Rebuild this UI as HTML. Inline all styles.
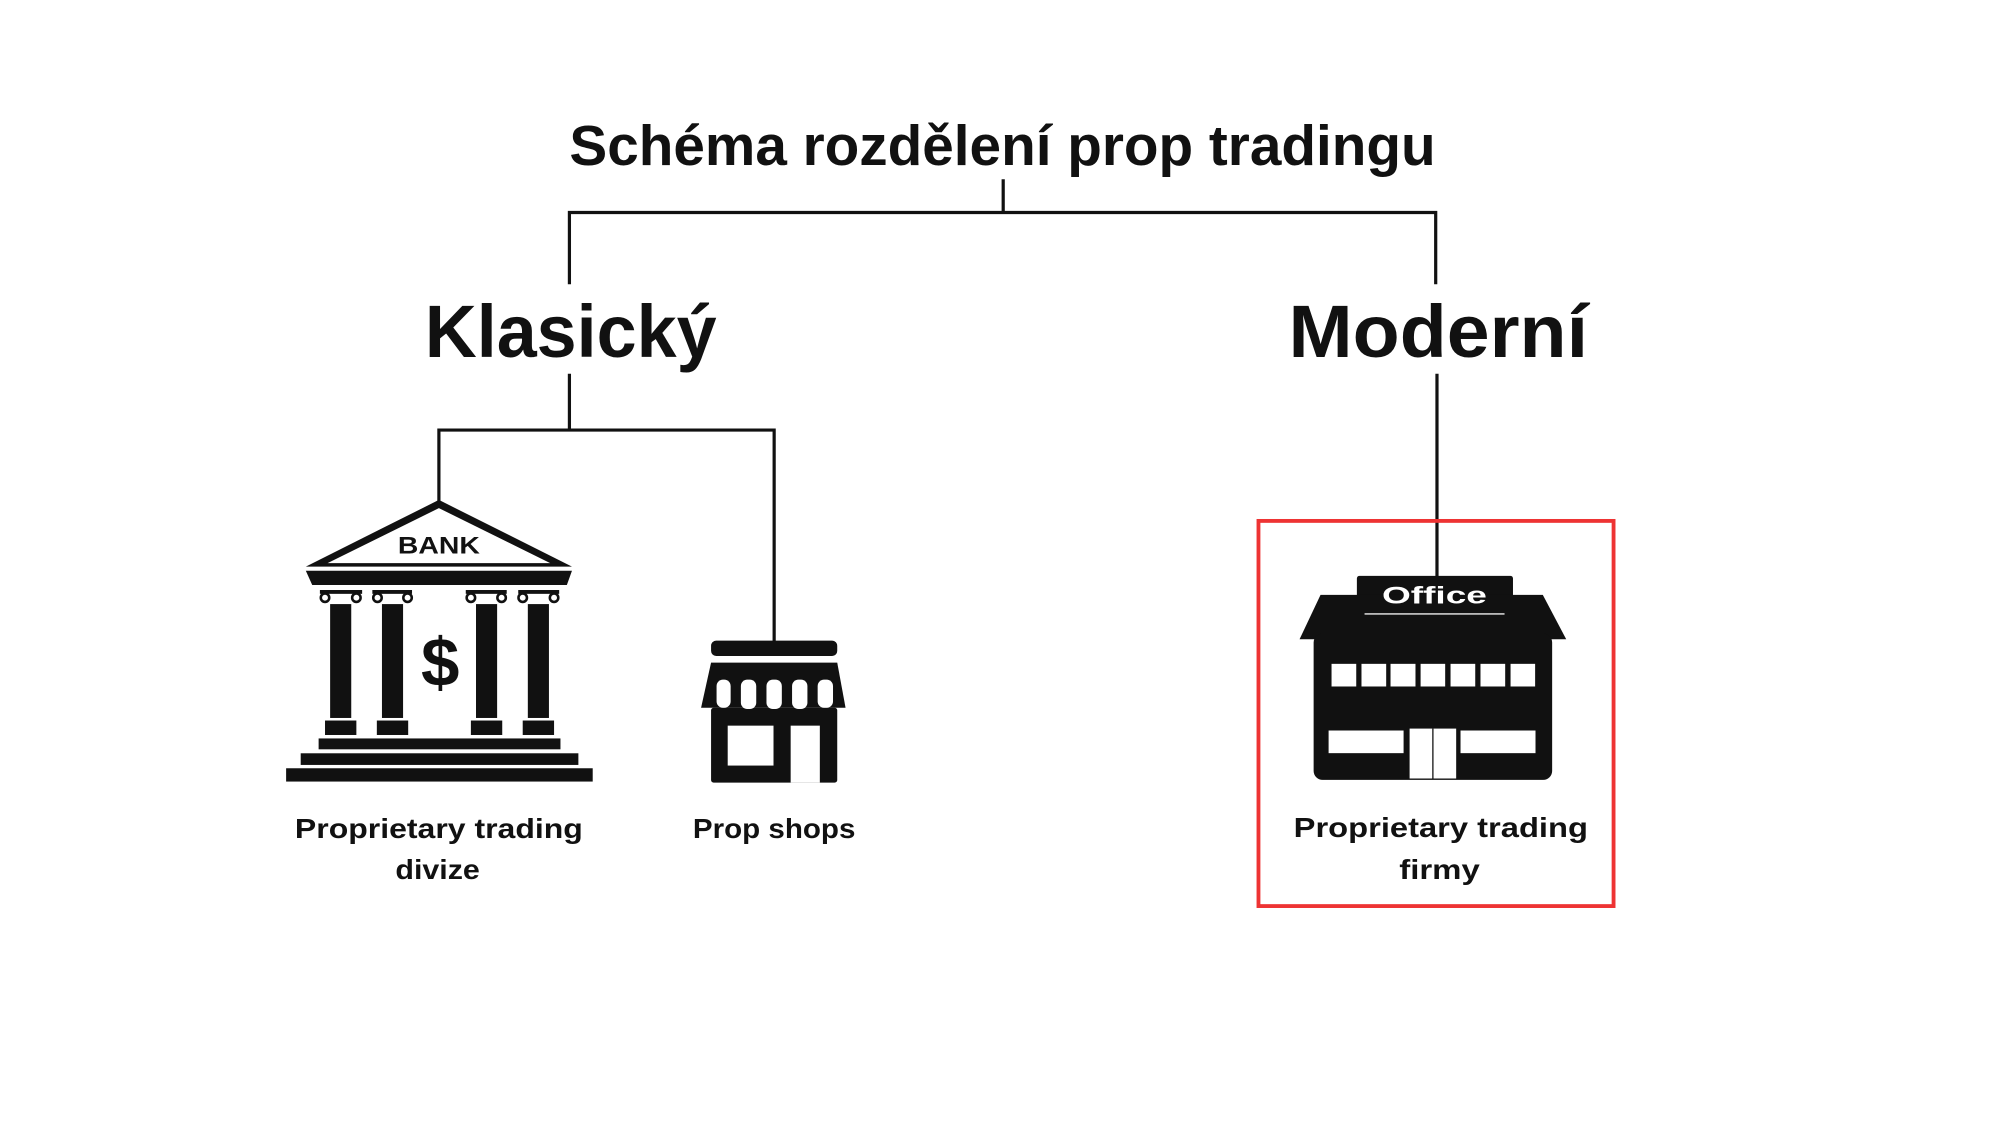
<!DOCTYPE html>
<html><head><meta charset="utf-8"><style>
html,body{margin:0;padding:0;background:#fff;}
svg{display:block;}
text{font-family:"Liberation Sans",sans-serif;font-weight:bold;}
</style></head><body>
<svg width="2000" height="1125" viewBox="0 0 1563 879" xmlns="http://www.w3.org/2000/svg">
<rect width="1563" height="879" fill="#fff"/>
<!-- title -->
<text x="445" y="129" font-size="44" textLength="677" lengthAdjust="spacingAndGlyphs" fill="#111">Schéma rozdělení prop tradingu</text>
<g stroke="#111" stroke-width="2.5" fill="none">
<path d="M784 140V166M445 222V166H1122V222"/>
<path d="M445 292V336M343 392V336H605V502"/>
<path d="M1123 292V452"/>
</g>
<text x="332" y="279" font-size="58" textLength="228" lengthAdjust="spacingAndGlyphs" fill="#111">Klasický</text>
<text x="1007" y="279" font-size="58" textLength="234" lengthAdjust="spacingAndGlyphs" fill="#111">Moderní</text>
<!-- red box -->
<rect x="983.5" y="407" width="277.5" height="301" fill="none" stroke="#ee3333" stroke-width="3"/>
<!-- bank -->
<g fill="#111">
<polygon points="343,390.6 447,442.7 239,442.7"/>
<polygon points="343,397 430,440 256,440" fill="#fff"/>
<text x="343" y="432.5" font-size="19" text-anchor="middle" textLength="64" lengthAdjust="spacingAndGlyphs">BANK</text>
<polygon points="239,445.9 447,445.9 443,457.1 244,457.1"/>
<rect x="250" y="461" width="33" height="3"/><rect x="291" y="461" width="31" height="3"/>
<rect x="364" y="461" width="32" height="3"/><rect x="405" y="461" width="32" height="3"/>
<g fill="#fff" stroke="#111" stroke-width="2">
<circle cx="254" cy="467" r="3.3"/><circle cx="278.5" cy="467" r="3.3"/>
<circle cx="295" cy="467" r="3.3"/><circle cx="318.5" cy="467" r="3.3"/>
<circle cx="368" cy="467" r="3.3"/><circle cx="392" cy="467" r="3.3"/>
<circle cx="408.5" cy="467" r="3.3"/><circle cx="433" cy="467" r="3.3"/>
</g>
<rect x="258" y="472" width="16.5" height="89"/>
<rect x="298.5" y="472" width="16.5" height="89"/>
<rect x="372" y="472" width="16.5" height="89"/>
<rect x="412.5" y="472" width="16.5" height="89"/>
<rect x="254" y="563" width="24.5" height="11.3"/>
<rect x="294.5" y="563" width="24.5" height="11.3"/>
<rect x="368" y="563" width="24.5" height="11.3"/>
<rect x="408.5" y="563" width="24.5" height="11.3"/>
<rect x="249" y="577" width="189" height="8.5"/>
<rect x="235" y="588.6" width="217" height="9.1"/>
<rect x="223.6" y="600.3" width="239.6" height="10.4"/>
<text x="344" y="536" font-size="54" text-anchor="middle">$</text>
</g>
<!-- shop -->
<g fill="#111">
<rect x="555.7" y="500.6" width="98.6" height="12" rx="4"/>
<polygon points="555.7,517.7 654.3,517.7 660.8,553 547.9,553"/>
<rect x="555.7" y="553" width="98.6" height="58.5" rx="2"/>
<g fill="#fff">
<rect x="560" y="531" width="11" height="22" rx="5"/>
<rect x="579" y="531" width="12" height="23" rx="5"/>
<rect x="599" y="531" width="12" height="23" rx="5"/>
<rect x="619" y="531" width="12" height="23" rx="5"/>
<rect x="639" y="531" width="12" height="22" rx="5"/>
<rect x="568.7" y="567" width="35.8" height="31.2"/>
<rect x="617.9" y="567" width="22.8" height="44.5"/>
</g>
</g>
<!-- office -->
<g fill="#111">
<rect x="1060.4" y="450" width="122" height="32" rx="2"/>
<polygon points="1032,464.8 1205.7,464.8 1224,499.5 1015.6,499.5"/>
<rect x="1026.6" y="495" width="186.4" height="114.4" rx="7"/>
<text x="1121" y="471.5" font-size="19" fill="#fff" text-anchor="middle" textLength="82" lengthAdjust="spacingAndGlyphs" font-family="Liberation Sans" font-weight="bold">Office</text>
<rect x="1066.4" y="479.2" width="109.4" height="1" fill="#fff"/>
<g fill="#fff">
<rect x="1040.6" y="518.7" width="19.3" height="17.7"/>
<rect x="1064" y="518.7" width="19.3" height="17.7"/>
<rect x="1086.7" y="518.7" width="19.5" height="17.7"/>
<rect x="1110.2" y="518.7" width="19.2" height="17.7"/>
<rect x="1133.6" y="518.7" width="19.3" height="17.7"/>
<rect x="1157" y="518.7" width="19.3" height="17.7"/>
<rect x="1180.5" y="518.7" width="19.2" height="17.7"/>
<rect x="1038.3" y="570.8" width="58.6" height="17.7"/>
<rect x="1141.4" y="570.8" width="58.6" height="17.7"/>
<rect x="1101.6" y="569.3" width="36.4" height="39"/>
</g>
<rect x="1119.3" y="569.3" width="1" height="39"/>
</g>
<!-- labels -->
<g fill="#111" font-size="22" text-anchor="middle">
<text x="343" y="655" textLength="225" lengthAdjust="spacingAndGlyphs">Proprietary trading</text>
<text x="342" y="687" textLength="66" lengthAdjust="spacingAndGlyphs">divize</text>
<text x="605" y="655" textLength="127" lengthAdjust="spacingAndGlyphs">Prop shops</text>
<text x="1126" y="654" textLength="230" lengthAdjust="spacingAndGlyphs">Proprietary trading</text>
<text x="1125" y="687" textLength="63" lengthAdjust="spacingAndGlyphs">firmy</text>
</g>
</svg>
</body></html>
